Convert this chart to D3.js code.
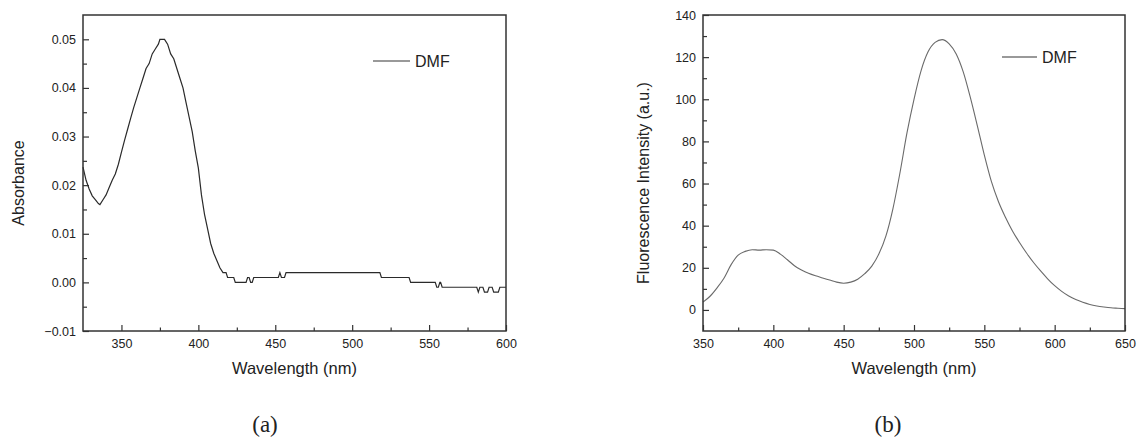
<!DOCTYPE html>
<html>
<head>
<meta charset="utf-8">
<script src="https://cdn.jsdelivr.net/npm/d3@7"></script>
<style>
  body { margin: 0; background: #fff; }
  svg { display: block; }
  text { font-family: "Liberation Sans", Arial, sans-serif; fill: #222; }
</style>
</head>
<body>
<script>
// absorbance spectrum (a)
const absWavelength = [325, 327, 329, 331, 333, 335, 336, 338, 340, 342, 344, 346, 348, 350, 352, 354, 356, 358, 360,
  362, 364, 366, 368, 370, 372, 374, 375, 378, 380, 382, 384, 386, 388, 390, 392, 394, 396, 398, 400, 402, 404, 406,
  408, 410, 412, 414, 416, 418, 419, 423, 424, 431, 432, 433, 434, 435, 436, 452, 453, 454, 456, 457, 518, 519, 537,
  538, 554, 555, 556, 557, 557.5, 558.5, 581, 582, 583, 585, 586, 588, 589, 591, 592, 595, 596, 600]
const absValue = [0.0237, 0.021, 0.0192, 0.0178, 0.017, 0.0162, 0.016, 0.017, 0.018, 0.0195, 0.021, 0.0223, 0.0243,
  0.0268, 0.0292, 0.0315, 0.0338, 0.036, 0.038, 0.040, 0.042, 0.044, 0.045, 0.047, 0.048, 0.049, 0.050, 0.050, 0.049,
  0.047, 0.046, 0.044, 0.042, 0.040, 0.037, 0.034, 0.031, 0.027, 0.0235, 0.018, 0.014, 0.011, 0.008, 0.006, 0.0045,
  0.003, 0.002, 0.002, 0.001, 0.001, 0, 0, 0.001, 0.001, 0, 0, 0.001, 0.001, 0.002, 0.001, 0.001, 0.002, 0.002, 0.001,
  0.001, 0, 0, -0.001, -0.001, 0, 0, -0.001, -0.001, -0.002, -0.001, -0.001, -0.002, -0.002, -0.001, -0.001, -0.002,
  -0.002, -0.001, -0.001]

// fluorescence spectrum (b)
const flWavelength = [350, 355, 360, 365, 370, 375, 380, 385, 390, 395, 400, 405, 410, 415, 420, 425, 430, 435, 440,
  445, 450, 455, 460, 465, 470, 475, 480, 485, 490, 495, 500, 505, 510, 515, 520, 525, 530, 535, 540, 545, 550, 555,
  560, 565, 570, 575, 580, 585, 590, 595, 600, 605, 610, 615, 620, 625, 630, 635, 640, 645, 650]
const flValue = [3.7, 6.5, 10.5, 15.2, 21.5, 26, 27.8, 28.6, 28.4, 28.6, 28.4, 26.5, 23.8, 21, 19, 17.4, 16.2, 15.2,
  14.2, 13.2, 12.7, 13.2, 14.6, 17.2, 20.8, 26.5, 35, 48, 65, 84, 100, 113.5, 122.5, 127, 128.3, 126.3, 121.5, 113, 101,
  87.5, 73.5, 61, 51.5, 44, 37.5, 32, 27, 22.5, 18.5, 14.8, 11.5, 8.8, 6.6, 4.9, 3.6, 2.6, 1.9, 1.4, 1.0, 0.8, 0.6]

const absXTicks = [350, 400, 450, 500, 550, 600]
const absYTicks = [-0.01, 0, 0.01, 0.02, 0.03, 0.04, 0.05]
const flXTicks = [350, 400, 450, 500, 550, 600, 650]
const flYTicks = [0, 20, 40, 60, 80, 100, 120, 140]

const svg = d3.select("body").append("svg")
  .attr("width", 1137)
  .attr("height", 438)

function panel(opt) {
  const x = d3.scaleLinear().domain(opt.xDomain).range([opt.left, opt.right])
  const y = d3.scaleLinear().domain(opt.yDomain).range([opt.bottom, opt.top])
  const g = svg.append("g")

  // minor ticks
  g.append("g")
    .attr("transform", "translate(0," + opt.bottom + ")")
    .call(d3.axisBottom(x).tickValues(opt.xMinor).tickSize(-3.5).tickFormat(""))
  g.append("g")
    .attr("transform", "translate(" + opt.left + ",0)")
    .call(d3.axisLeft(y).tickValues(opt.yMinor).tickSize(-4).tickFormat(""))

  // major ticks
  g.append("g")
    .attr("transform", "translate(0," + opt.bottom + ")")
    .call(d3.axisBottom(x).tickValues(opt.xTicks).tickSize(-6).tickPadding(8).tickFormat(d3.format("d")))
  g.append("g")
    .attr("transform", "translate(" + opt.left + ",0)")
    .call(d3.axisLeft(y).tickValues(opt.yTicks).tickSize(-6).tickPadding(7).tickFormat(opt.yFormat))

  g.selectAll(".domain").remove()
  g.selectAll(".tick line").attr("stroke", "#333").attr("stroke-width", 1.2)
  g.selectAll(".tick text")
    .style("font-family", '"Liberation Sans", Arial, sans-serif')
    .style("font-size", "12.5px")
    .attr("fill", "#222")

  const line = d3.line()
    .x((d, i) => x(opt.xs[i]))
    .y((d) => y(d))
    .curve(opt.curve)
  g.append("path")
    .datum(opt.ys)
    .attr("d", line)
    .attr("fill", "none")
    .attr("stroke", opt.color)
    .attr("stroke-width", opt.width)

  g.append("rect")
    .attr("x", opt.left)
    .attr("y", opt.top)
    .attr("width", opt.right - opt.left)
    .attr("height", opt.bottom - opt.top)
    .attr("fill", "none")
    .attr("stroke", "#333")
    .attr("stroke-width", 1.5)

  // legend
  g.append("line")
    .attr("x1", opt.legend[0]).attr("x2", opt.legend[0] + opt.legend[2])
    .attr("y1", opt.legend[1]).attr("y2", opt.legend[1])
    .attr("stroke", "#777").attr("stroke-width", 1.3)
  g.append("text")
    .attr("x", opt.legend[0] + opt.legend[2] + 5)
    .attr("y", opt.legend[1] + 6)
    .style("font-size", "16px")
    .text("DMF")

  g.append("text")
    .attr("x", (opt.left + opt.right) / 2)
    .attr("y", 374)
    .attr("text-anchor", "middle")
    .style("font-size", "16.5px")
    .text("Wavelength (nm)")

  g.append("text")
    .attr("transform", "translate(" + opt.yLabelX + ",183) rotate(-90)")
    .attr("text-anchor", "middle")
    .attr("dy", "0.35em")
    .style("font-size", "16px")
    .text(opt.yLabel)

  svg.append("text")
    .attr("x", opt.captionX)
    .attr("y", 432)
    .attr("text-anchor", "middle")
    .style("font-family", '"Liberation Serif", "Times New Roman", serif')
    .style("font-size", "23px")
    .attr("fill", "#000")
    .text(opt.caption)
}

panel({
  left: 83, right: 506, top: 15, bottom: 331,
  xDomain: [325, 600], yDomain: [-0.01, 0.055],
  xTicks: absXTicks, yTicks: absYTicks,
  xMinor: [375, 425, 475, 525, 575],
  yMinor: [-0.005, 0.005, 0.015, 0.025, 0.035, 0.045],
  yFormat: d3.format(".2f"),
  xs: absWavelength, ys: absValue,
  color: "#2a2a2a", width: 1.2, curve: d3.curveLinear,
  legend: [373, 61, 37],
  yLabel: "Absorbance", yLabelX: 18,
  caption: "(a)", captionX: 265
})

panel({
  left: 703, right: 1125, top: 15, bottom: 331,
  xDomain: [350, 650], yDomain: [-10, 140],
  xTicks: flXTicks, yTicks: flYTicks,
  xMinor: [375, 425, 475, 525, 575, 625],
  yMinor: [10, 30, 50, 70, 90, 110, 130],
  yFormat: d3.format("d"),
  xs: flWavelength, ys: flValue,
  color: "#6a6a6a", width: 1.1, curve: d3.curveMonotoneX,
  legend: [1002, 57, 35],
  yLabel: "Fluorescence Intensity (a.u.)", yLabelX: 643,
  caption: "(b)", captionX: 888
})
</script>
</body>
</html>
